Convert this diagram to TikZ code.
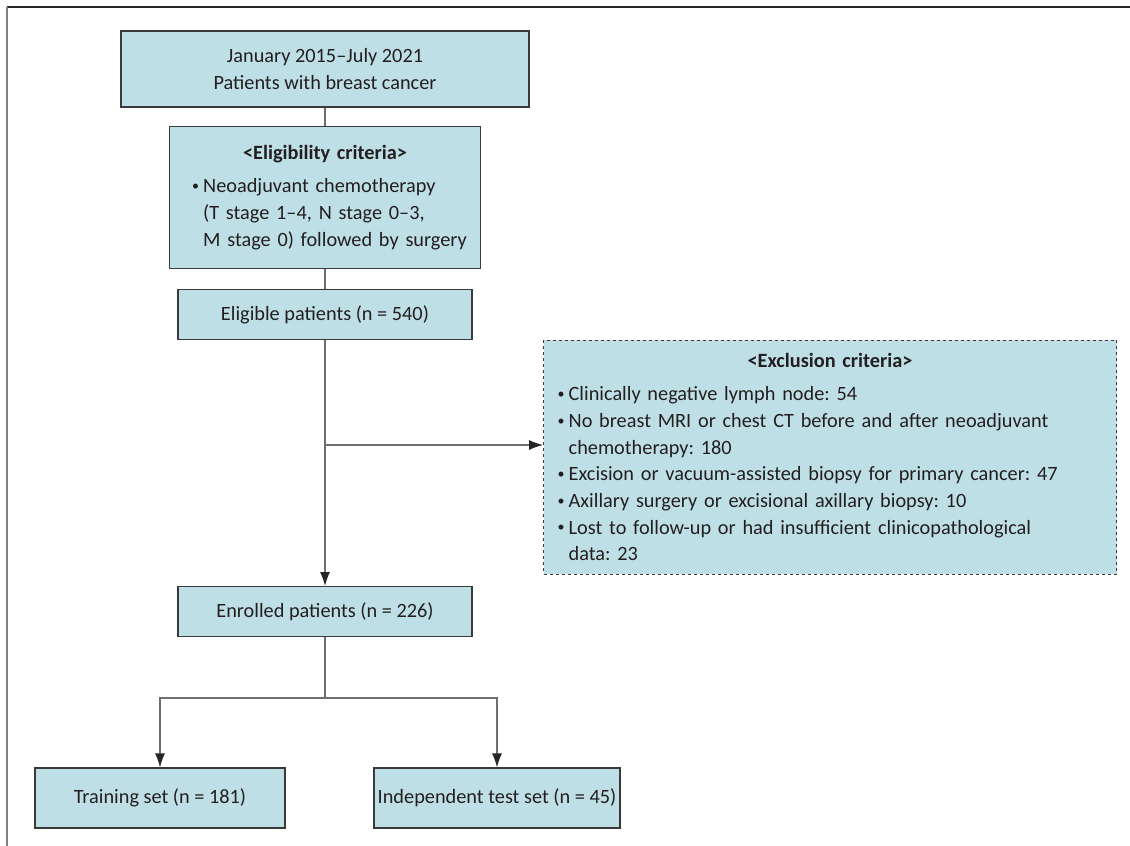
\documentclass[tikz,border=0pt]{standalone}
\usepackage{fontspec}
\setmainfont{Carlito}
\usetikzlibrary{positioning,arrows.meta}

\definecolor{boxfill}{HTML}{BFDFE6}
\definecolor{boxline}{HTML}{3A3A3A}
\definecolor{linkline}{HTML}{6E6E6E}
\definecolor{textdark}{HTML}{231F20}

% one bullet line, with the next lines hung under the text
\newcommand{\crbullet}{\makebox[0.55em][l]{\raisebox{0.12em}{\fontsize{14pt}{14pt}\selectfont\textbullet}}}
\newcommand{\critem}[1]{\par\hangindent=0.55em\hangafter=1\noindent\crbullet#1\par}
\newcommand{\crwrap}{\hfil\break}
\newcommand{\crtitle}[1]{{\centering\textbf{#1}\par}\vspace{7pt}}

\begin{document}
\frenchspacing
\begin{tikzpicture}[x=1pt, y=-1pt,
	stage/.style={rectangle, draw=boxline, fill=boxfill, line width=1.2pt, align=center,
		text=textdark, font=\fontsize{20.3pt}{26.7pt}\selectfont\frenchspacing, inner sep=0pt},
	criteria/.style={stage, align=left},
	link/.style={draw=linkline, line width=1.2pt},
	arrow/.style={link, -{Latex[length=14pt, width=10pt, color=black!85]}},
	frame/.style={line width=1.6pt}
]
\useasboundingbox (0,0) rectangle (1130,846);
\draw[frame, black!85] (7,7) -- (1130,7);
\draw[frame, black!50] (7,7) -- (7,846);

\node[stage, minimum width=408pt, minimum height=76pt] (source) at (325,69)
	{January 2015--July 2021\\Patients with breast cancer};
\node[criteria, minimum width=311pt, minimum height=142pt, text width=290pt] (eligibility) [below=18pt of source]
	{\crtitle{<Eligibility criteria>}\leftskip=12pt
	\critem{Neoadjuvant chemotherapy\crwrap(T stage 1--4, N stage 0--3,\crwrap M stage 0) followed by surgery}};
\node[stage, minimum width=294pt, minimum height=50pt] (eligible) [below=20pt of eligibility]
	{Eligible patients (n = 540)};
\node[stage, minimum width=294pt, minimum height=50pt] (enrolled) [below=246pt of eligible]
	{Enrolled patients (n = 226)};
\node[criteria, dashed, line width=0.8pt, minimum width=573pt, minimum height=234pt, text width=545pt] (exclusion) at (830,457)
	{\crtitle{<Exclusion criteria>}
	\critem{Clinically negative lymph node: 54}
	\critem{No breast MRI or chest CT before and after neoadjuvant\crwrap chemotherapy: 180}
	\critem{Excision or vacuum-assisted biopsy for primary cancer: 47}
	\critem{Axillary surgery or excisional axillary biopsy: 10}
	\critem{Lost to follow-up or had insufficient clinicopathological\crwrap data: 23}};
\node[stage, minimum width=250pt, minimum height=60pt] (training) at (160,798)
	{Training set (n = 181)};
\node[stage, minimum width=246pt, minimum height=60pt] (testset) at (497,798)
	{Independent test set (n = 45)};

\coordinate (exclsplit) at (325,445);
\coordinate (setsplit) at (325,698);

\draw[link] (source) -- (eligibility);
\draw[link] (eligibility) -- (eligible);
\draw[arrow] (eligible) -- (enrolled);
\draw[arrow] (exclsplit) -- (exclsplit -| exclusion.west);
\draw[link] (enrolled) -- (setsplit);
\draw[arrow] (setsplit) -| (training.north);
\draw[arrow] (setsplit) -| (testset.north);
\end{tikzpicture}
\end{document}
